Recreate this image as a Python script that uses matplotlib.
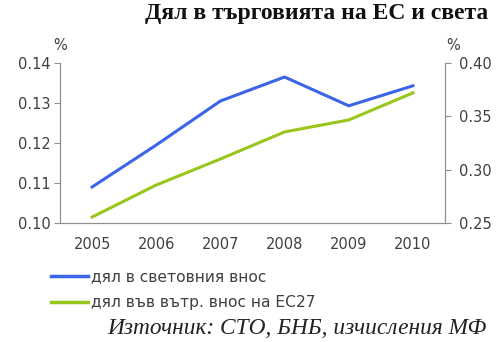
import matplotlib
matplotlib.use('Agg')
import matplotlib.pyplot as plt
from matplotlib.lines import Line2D

years = ['2005', '2006', '2007', '2008', '2009', '2010']
world_share = [0.109, 0.1195, 0.1305, 0.1365, 0.1293, 0.1343]
eu_share = [0.2556, 0.2856, 0.310, 0.3354, 0.3466, 0.372]

blue = '#3b64e8'
green = '#99c61a'
grey = '#404040'

fig = plt.figure(figsize=(5.02, 3.42), dpi=100)
ax = fig.add_axes([60/502, 1 - 223/342, 385/502, 160/342])
ax2 = ax.twinx()

x = range(len(years))
ax.plot(x, world_share, color=blue, lw=2.2)
ax2.plot(x, eu_share, color=green, lw=2.2)

ax.set_xlim(-0.5, 5.5)
ax.set_ylim(0.10, 0.14)
ax2.set_ylim(0.25, 0.40)
ax.set_yticks([0.10, 0.11, 0.12, 0.13, 0.14])
ax.set_yticklabels(['0.10', '0.11', '0.12', '0.13', '0.14'])
ax2.set_yticks([0.25, 0.30, 0.35, 0.40])
ax2.set_yticklabels(['0.25', '0.30', '0.35', '0.40'])
ax.set_xticks(list(x))
ax.set_xticklabels(years)

for a in (ax, ax2):
    a.spines['top'].set_visible(False)
    for s in ('left', 'right', 'bottom'):
        a.spines[s].set_color('#909090')
        a.spines[s].set_linewidth(0.8)
    a.tick_params(colors='#909090', labelcolor=grey, labelsize=10.5, length=4, width=0.8)
ax.tick_params(axis='x', length=0, pad=10)
ax.tick_params(axis='y', pad=3)
ax2.tick_params(axis='y', pad=6)

fig.text(60/502, 1 - 45/342, '%', ha='center', va='center', color=grey, fontsize=10.5)
fig.text(453/502, 1 - 45/342, '%', ha='center', va='center', color=grey, fontsize=10.5)

fig.text(488/502, 1 - 13/342, 'Дял в търговията на ЕС и света', ha='right', va='center',
         fontsize=17, fontweight='bold', family='Liberation Serif', color='#111111')

handles = [Line2D([0], [0], color=blue, lw=2.5), Line2D([0], [0], color=green, lw=2.5)]
fig.legend(handles, ['дял в световния внос', 'дял във вътр. внос на ЕС27'],
           loc='upper left', bbox_to_anchor=(37/502, 1 - 255/342), frameon=False,
           fontsize=11.2, handlelength=2.4, handletextpad=0.15, labelspacing=0.72,
           labelcolor=grey)

fig.text(487/502, 1 - 328/342, 'Източник: СТО, БНБ, изчисления МФ', ha='right', va='center',
         fontsize=16.8, style='italic', family='Liberation Serif', color='#222222')

fig.savefig('out.png', dpi=100)
